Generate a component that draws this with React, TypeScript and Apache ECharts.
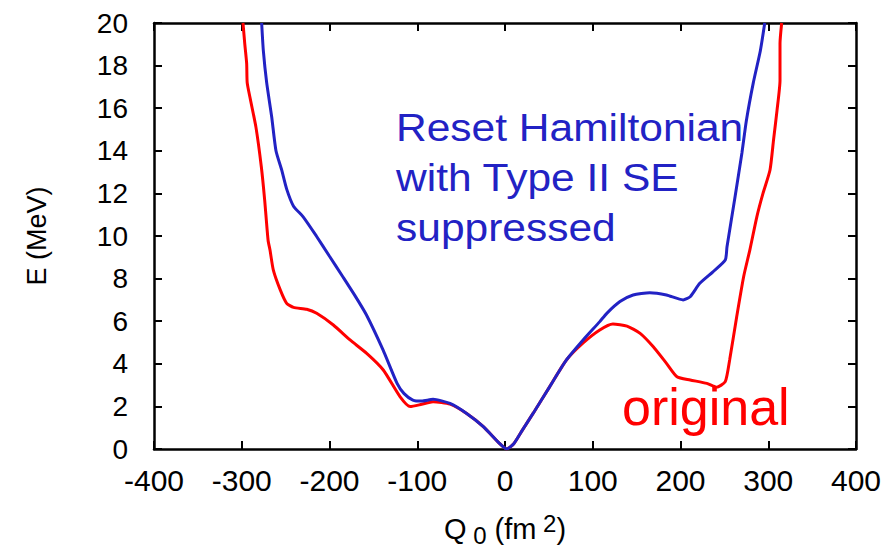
import React, { useEffect, useRef } from "react";
import * as echarts from "echarts";

// Q0 (fm^2) and E (MeV) for the "original" curve (red)
const redQ = [-298.6, -296.5, -294.4, -293.8, -290.6, -283.8, -277.7, -273.9, -270, -267.8, -264, -256, -248.8, -241, -226, -214.6, -195.6, -176.6, -157.6, -138.7, -119.7, -108, -95, -82, -62.7, -43.7, -24.7, -6, 2, 10, 20, 32, 51, 70, 89, 108, 123, 139, 154, 169, 184, 196, 211, 230, 241, 251, 256, 264, 272, 279, 287, 294, 302, 306, 310, 313.4, 313.4, 315.3];
const redE = [20, 19.0, 18.1, 17.2, 16.5, 15.1, 13.25, 11.7, 9.8, 9.34, 8.4, 7.46, 6.84, 6.65, 6.56, 6.37, 5.82, 5.12, 4.49, 3.71, 2.46, 1.99, 2.1, 2.22, 2.11, 1.67, 1.05, 0.25, 0, 0.25, 0.9, 1.67, 2.93, 4.18, 4.98, 5.59, 5.87, 5.77, 5.43, 4.8, 4.02, 3.39, 3.24, 3.08, 2.9, 3.16, 4.18, 6.2, 8.1, 9.34, 10.9, 12.0, 13.1, 14.5, 15.9, 17.3, 19.04, 20];

// "Reset Hamiltonian with Type II SE suppressed" curve (blue)
const blueQ = [-277.3, -275.4, -271.6, -265.9, -261, -254.5, -248.8, -241, -230, -215, -200, -185, -171, -158, -139, -123, -115, -105, -95, -82, -62.7, -43.7, -24.7, -6, 2, 10, 20, 32, 51, 70, 89, 108, 116, 131, 146, 165, 184, 203, 211, 222, 237, 251, 253, 262, 270, 275, 283, 291, 296];
const blueE = [20, 18.7, 17.2, 15.6, 14.0, 13.1, 12.2, 11.4, 10.9, 10.0, 9.05, 8.1, 7.2, 6.3, 4.65, 3.08, 2.6, 2.3, 2.25, 2.33, 2.14, 1.67, 1.05, 0.25, 0, 0.25, 0.9, 1.67, 2.93, 4.18, 5.12, 5.98, 6.37, 6.92, 7.23, 7.34, 7.23, 7.0, 7.15, 7.78, 8.32, 8.87, 9.5, 11.8, 13.9, 15.4, 17.2, 18.7, 20];

const xTicks = [-400, 400, 100];
const yTicks = [0, 20, 2];

const annotationLines = ["Reset Hamiltonian", "with Type II SE", "suppressed"];
const originalLabel = "original";

const RED = "#ff0000";
const BLUE = "#2222c4";
const FONT = "Liberation Sans, Arial, Helvetica, sans-serif";

export default function App() {
  const ref = useRef<HTMLDivElement>(null);
  useEffect(() => {
    if (!ref.current) return;
    const chart = echarts.init(ref.current, undefined, { renderer: "svg" });
    const axisLine = { show: true, onZero: false, lineStyle: { color: "#000", width: 2.5 } };
    const tick = { show: true, inside: true, length: 8, lineStyle: { color: "#000", width: 2 } };
    chart.setOption({
      animation: false,
      backgroundColor: "#fff",
      textStyle: { fontFamily: FONT },
      grid: { left: 154, top: 23, right: 34, bottom: 103, containLabel: false, outerBoundsMode: "none" },
      xAxis: [
        {
          type: "value",
          min: xTicks[0],
          max: xTicks[1],
          interval: xTicks[2],
          position: "bottom",
          axisLine,
          axisTick: tick,
          splitLine: { show: false },
          axisLabel: { color: "#000", fontSize: 30, margin: 16, fontFamily: FONT },
          name: "{a|Q}{sub| 0}{a| (fm}{sup| 2}{a|)}",
          nameLocation: "middle",
          nameGap: 62,
          nameTextStyle: {
            color: "#000",
            fontFamily: FONT,
            rich: {
              a: { fontSize: 29, color: "#000", fontFamily: FONT, lineHeight: 36, verticalAlign: "middle" },
              sub: { fontSize: 24, color: "#000", fontFamily: FONT, lineHeight: 36, verticalAlign: "bottom", padding: [10, 0, 0, 0] },
              sup: { fontSize: 24, color: "#000", fontFamily: FONT, lineHeight: 36, verticalAlign: "top", padding: [0, 0, 10, 0] },
            },
          },
        },
        {
          type: "value",
          min: xTicks[0],
          max: xTicks[1],
          interval: xTicks[2],
          position: "top",
          axisLine,
          axisTick: tick,
          splitLine: { show: false },
          axisLabel: { show: false },
        },
      ],
      yAxis: [
        {
          type: "value",
          min: yTicks[0],
          max: yTicks[1],
          interval: yTicks[2],
          position: "left",
          axisLine,
          axisTick: tick,
          splitLine: { show: false },
          axisLabel: { color: "#000", fontSize: 28, margin: 26, fontFamily: FONT },
          name: "E (MeV)",
          nameLocation: "middle",
          nameGap: 104,
          nameRotate: 90,
          nameTextStyle: { color: "#000", fontSize: 27, fontFamily: FONT },
        },
        {
          type: "value",
          min: yTicks[0],
          max: yTicks[1],
          interval: yTicks[2],
          position: "right",
          axisLine,
          axisTick: tick,
          splitLine: { show: false },
          axisLabel: { show: false },
        },
      ],
      series: [
        {
          type: "line",
          name: "original",
          data: redQ.map((q, i) => [q, redE[i]]),
          showSymbol: false,
          smooth: 0.2,
          lineStyle: { color: RED, width: 3 },
          itemStyle: { color: RED },
          z: 3,
        },
        {
          type: "line",
          name: "reset",
          data: blueQ.map((q, i) => [q, blueE[i]]),
          showSymbol: false,
          smooth: 0.2,
          lineStyle: { color: BLUE, width: 3 },
          itemStyle: { color: BLUE },
          z: 4,
        },
      ],
      graphic: [
        ...annotationLines.map((t, i) => ({
          type: "text",
          x: 396,
          y: 108 + i * 50,
          scaleX: 1.09,
          style: { text: t, fill: BLUE, fontSize: 39, fontFamily: FONT },
          z: 10,
        })),
        {
          type: "text",
          x: 622,
          y: 381,
          style: { text: originalLabel, fill: RED, fontSize: 52, fontFamily: FONT },
          z: 10,
        },
      ],
    });
    return () => chart.dispose();
  }, []);
  return <div ref={ref} style={{ width: 890, height: 552, position: "absolute", left: 0, top: 0 }} />;
}
